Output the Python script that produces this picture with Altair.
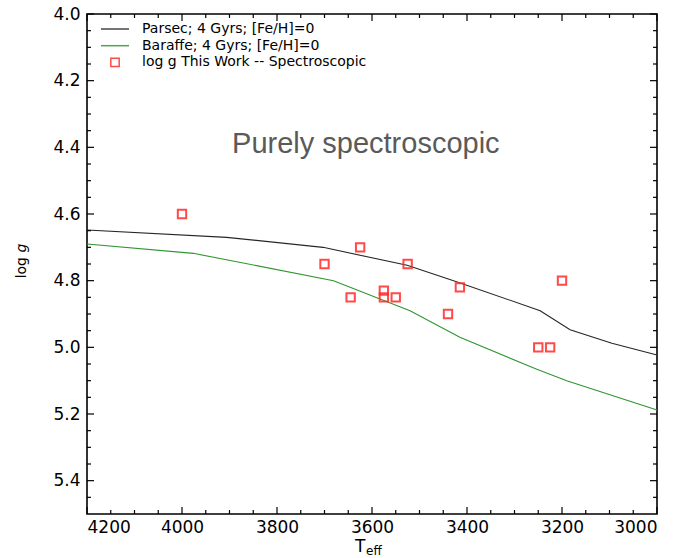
import altair as alt
import pandas as pd

# ---------------- data ----------------
parsec_teff = [4200, 3906, 3703, 3526, 3422, 3246, 3183, 3095, 3000]
parsec_logg = [4.648, 4.670, 4.700, 4.754, 4.803, 4.890, 4.947, 4.988, 5.023]

baraffe_teff = [4200, 3976, 3681, 3520, 3415, 3253, 3190, 3000]
baraffe_logg = [4.690, 4.718, 4.800, 4.890, 4.970, 5.066, 5.100, 5.188]

obs_teff = [4000, 3700, 3625, 3645, 3575, 3575, 3550, 3525, 3440, 3415, 3250, 3225, 3200]
obs_logg = [4.60, 4.75, 4.70, 4.85, 4.83, 4.85, 4.85, 4.75, 4.90, 4.82, 5.00, 5.00, 4.80]

series_names = ["Parsec; 4 Gyrs; [Fe/H]=0", "Baraffe; 4 Gyrs; [Fe/H]=0",
                "log g This Work -- Spectroscopic"]
series_colors = ["#262626", "#2f962f", "#ff2b2b"]
series_shapes = ["stroke", "stroke", "square"]
series_sizes = [784, 784, 70]

annot_label = ["Purely spectroscopic"]
annot_teff = [3613]
annot_logg = [4.418]

x_major = [4200, 4000, 3800, 3600, 3400, 3200, 3000]
x_minor = [4150, 4100, 4050, 3950, 3900, 3850, 3750, 3700, 3650, 3550, 3500, 3450,
           3350, 3300, 3250, 3150, 3100, 3050]
y_major = [4.0, 4.2, 4.4, 4.6, 4.8, 5.0, 5.2, 5.4]
y_minor = [4.05, 4.1, 4.15, 4.25, 4.3, 4.35, 4.45, 4.5, 4.55, 4.65, 4.7, 4.75,
           4.85, 4.9, 4.95, 5.05, 5.1, 5.15, 5.25, 5.3, 5.35, 5.45]

# ---------------- tables ----------------
lines_df = pd.DataFrame({
    "teff": parsec_teff + baraffe_teff,
    "logg": parsec_logg + baraffe_logg,
    "series": [series_names[0]] * len(parsec_teff) + [series_names[1]] * len(baraffe_teff),
})
obs_df = pd.DataFrame({"teff": obs_teff, "logg": obs_logg,
                       "series": [series_names[2]] * len(obs_teff)})
annot_df = pd.DataFrame({"teff": annot_teff, "logg": annot_logg, "label": annot_label})

W, H = 570, 500
FONT = "DejaVu Sans"

x_scale = alt.Scale(domain=[3000, 4200], reverse=True, nice=False, zero=False)
y_scale = alt.Scale(domain=[4.0, 5.5], reverse=True, nice=False, zero=False)

legend = alt.Legend(
    title=None, orient="none", legendX=13, legendY=8, padding=0,
    symbolStrokeWidth=1.5, labelLimit=400,
    labelFont=FONT, labelFontSize=14, labelColor="black", labelOffset=12,
    clipHeight=14, rowPadding=2.7,
)
color = alt.Color("series:N", scale=alt.Scale(domain=series_names, range=series_colors),
                  legend=legend)
shape = alt.Shape("series:N", scale=alt.Scale(domain=series_names, range=series_shapes),
                  legend=legend)
size = alt.Size("series:N", scale=alt.Scale(type="ordinal", domain=series_names,
                                            range=series_sizes),
                legend=legend)

x_axis = alt.Axis(values=x_major, format="d", title=None, ticks=False, tickSize=0,
                  domain=False, grid=False, labelFont=FONT, labelFontSize=17,
                  labelColor="black", labelPadding=5)
y_axis = alt.Axis(values=y_major, format=".1f", title=None, ticks=False, tickSize=0,
                  domain=False, grid=False, labelFont=FONT, labelFontSize=17,
                  labelColor="black", labelPadding=7)


def X(field):
    return alt.X(field, scale=x_scale, axis=x_axis)


def Y(field):
    return alt.Y(field, scale=y_scale, axis=y_axis)


lines = alt.Chart(lines_df).mark_line(strokeWidth=1.1).encode(
    x=X("teff:Q"), y=Y("logg:Q"), color=color,
)

points = alt.Chart(obs_df).mark_point(filled=False, strokeWidth=2, opacity=0.85).encode(
    x=X("teff:Q"), y=Y("logg:Q"), color=color, shape=shape, size=size,
)

annot = alt.Chart(annot_df).mark_text(font="Liberation Sans", fontSize=29,
                                      color="#5a5a5a", align="center",
                                      baseline="alphabetic").encode(
    x=X("teff:Q"), y=Y("logg:Q"), text="label:N",
)


def xticks(vals, length):
    df = pd.DataFrame({"v": vals})
    base = alt.Chart(df).mark_rule(color="black", strokeWidth=1.2)
    bottom = base.encode(x=X("v:Q"), y=alt.value(H), y2=alt.value(H - length))
    top = base.encode(x=X("v:Q"), y=alt.value(0), y2=alt.value(length))
    return [bottom, top]


def yticks(vals, length):
    df = pd.DataFrame({"v": vals})
    base = alt.Chart(df).mark_rule(color="black", strokeWidth=1.2)
    left = base.encode(y=Y("v:Q"), x=alt.value(0), x2=alt.value(length))
    right = base.encode(y=Y("v:Q"), x=alt.value(W), x2=alt.value(W - length))
    return [left, right]


tick_layers = xticks(x_major, 7) + xticks(x_minor, 4) + yticks(y_major, 7) + yticks(y_minor, 4)

# axis titles (text pieces with sub/italic parts)
title_df = pd.DataFrame({"t": ["x"]})
t_main = alt.Chart(title_df).mark_text(text="T", font=FONT, fontSize=17, align="left",
                                       baseline="alphabetic", color="black").encode(
    x=alt.value(268), y=alt.value(537.5))
t_sub = alt.Chart(title_df).mark_text(text="eff", font=FONT, fontSize=12, align="left",
                                      baseline="alphabetic", color="black").encode(
    x=alt.value(279), y=alt.value(540.5))
y_log = alt.Chart(title_df).mark_text(text="log", font=FONT, fontSize=14, angle=270,
                                      align="right", baseline="alphabetic",
                                      color="black").encode(
    x=alt.value(-61), y=alt.value(243))
y_g = alt.Chart(title_df).mark_text(text="g", font=FONT, fontSize=14, fontStyle="italic",
                                    angle=270, align="left", baseline="alphabetic",
                                    color="black").encode(
    x=alt.value(-61), y=alt.value(238.5))

chart = alt.layer(
    lines, points, annot, *tick_layers, t_main, t_sub, y_log, y_g
).properties(
    width=W, height=H,
    autosize=alt.AutoSizeParams(type="none"),
    padding={"left": 87, "top": 14, "right": 41, "bottom": 44},
    background="white",
).configure_view(
    stroke="black", strokeWidth=1.6
)

chart.save("out.html", embed_options={"renderer": "svg", "actions": False})
